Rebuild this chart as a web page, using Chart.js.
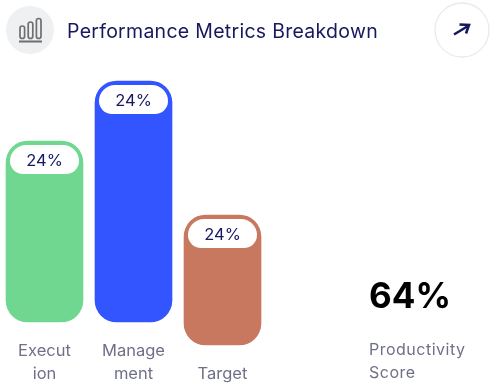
<!DOCTYPE html>
<html><head><meta charset="utf-8">
<script src="https://cdn.jsdelivr.net/npm/chart.js@4"></script>
<style>
html,body{margin:0;padding:0;background:#fff;width:492px;height:385px;overflow:hidden;font-family:Inter,sans-serif}
#c{position:absolute;left:0;top:0}
.abs{position:absolute;white-space:nowrap}
#title{left:67px;top:17px;font-size:19.5px;line-height:28px;color:#17185f;letter-spacing:.28px}
#score{left:369px;top:272px;font-size:35px;line-height:46px;font-weight:700;color:#000;letter-spacing:0}
#scoreLabel{left:369px;top:337.5px;font-size:16px;line-height:23.5px;color:#6f7088;letter-spacing:.5px}
</style></head><body>
<canvas id="c" width="492" height="385"></canvas>
<svg class="abs" style="left:0;top:0" width="492" height="70" viewBox="0 0 492 70">
<circle cx="30" cy="30" r="24" fill="#eef0f2"/>
<g fill="none" stroke="#6f6f6f" stroke-width="1.7">
<rect x="20" y="26" width="4.6" height="12.5" rx="2.3"/>
<rect x="28.2" y="22" width="4.6" height="16.5" rx="2.3"/>
<rect x="36.4" y="18.5" width="4.6" height="20" rx="2.3"/>
</g>
<rect x="19" y="40.5" width="23" height="2" fill="#6f6f6f"/>
<circle cx="462" cy="30" r="27" fill="#fff" stroke="#e9eaec" stroke-width="1.3"/>
<g fill="none" stroke="#17185f" stroke-width="2.6" stroke-linejoin="miter">
<path d="M454 34.5 L468 26"/>
<path d="M459.5 24.5 L469 25 L466 33.5"/>
</g>
</svg>
<div class="abs" id="title">Performance Metrics Breakdown</div>
<div class="abs" id="score">64%</div>
<div class="abs" id="scoreLabel">Productivity<br>Score</div>
<script>
const categories = [["Execut","ion"],["Manage","ment"],["","Target"]];
const barLows = [23,23,0];
const barHighs = [204,264,130];
const barLabels = ["24%","24%","24%"];
const barColors = ["#6fd78f","#3355ff","#c8785e"];

const pillPlugin = {
  id:"pills",
  afterDatasetsDraw(chart){
    const ctx = chart.ctx, bars = chart.getDatasetMeta(0).data;
    bars.forEach((b,i)=>{
      const l = b.x-34.5, t = b.y+4, w = 69, h = 29;
      ctx.save();
      ctx.fillStyle = "#fff";
      ctx.beginPath();
      ctx.roundRect(l,t,w,h,[18,18,14.5,14.5]);
      ctx.fill();
      ctx.fillStyle = "#17185f";
      ctx.font = "16.5px Inter, sans-serif";
      ctx.textAlign = "center";
      ctx.textBaseline = "middle";
      ctx.fillText(barLabels[i], b.x, t+h/2+1.5);
      ctx.restore();
    });
  }
};

new Chart(document.getElementById("c"),{
  type:"bar",
  data:{labels:categories,datasets:[{
    data:barLows.map((v,i)=>[v,barHighs[i]]),
    backgroundColor:barColors,
    borderRadius:22,
    borderSkipped:false,
    barThickness:77,
    clip:false
  }]},
  options:{
    responsive:false,animation:false,
    layout:{padding:{left:0,right:225,top:0,bottom:0}},
    plugins:{legend:{display:false},tooltip:{enabled:false}},
    scales:{
      x:{
        grid:{display:false,drawTicks:false},border:{display:false},
        afterFit(s){s.height=48;},
        ticks:{color:"#6f7088",font:{family:"Inter, sans-serif",size:16.5,lineHeight:1.4},padding:2,maxRotation:0,autoSkip:false}
      },
      y:{display:false,min:8,max:345}
    }
  },
  plugins:[pillPlugin]
});
</script>
</body></html>
